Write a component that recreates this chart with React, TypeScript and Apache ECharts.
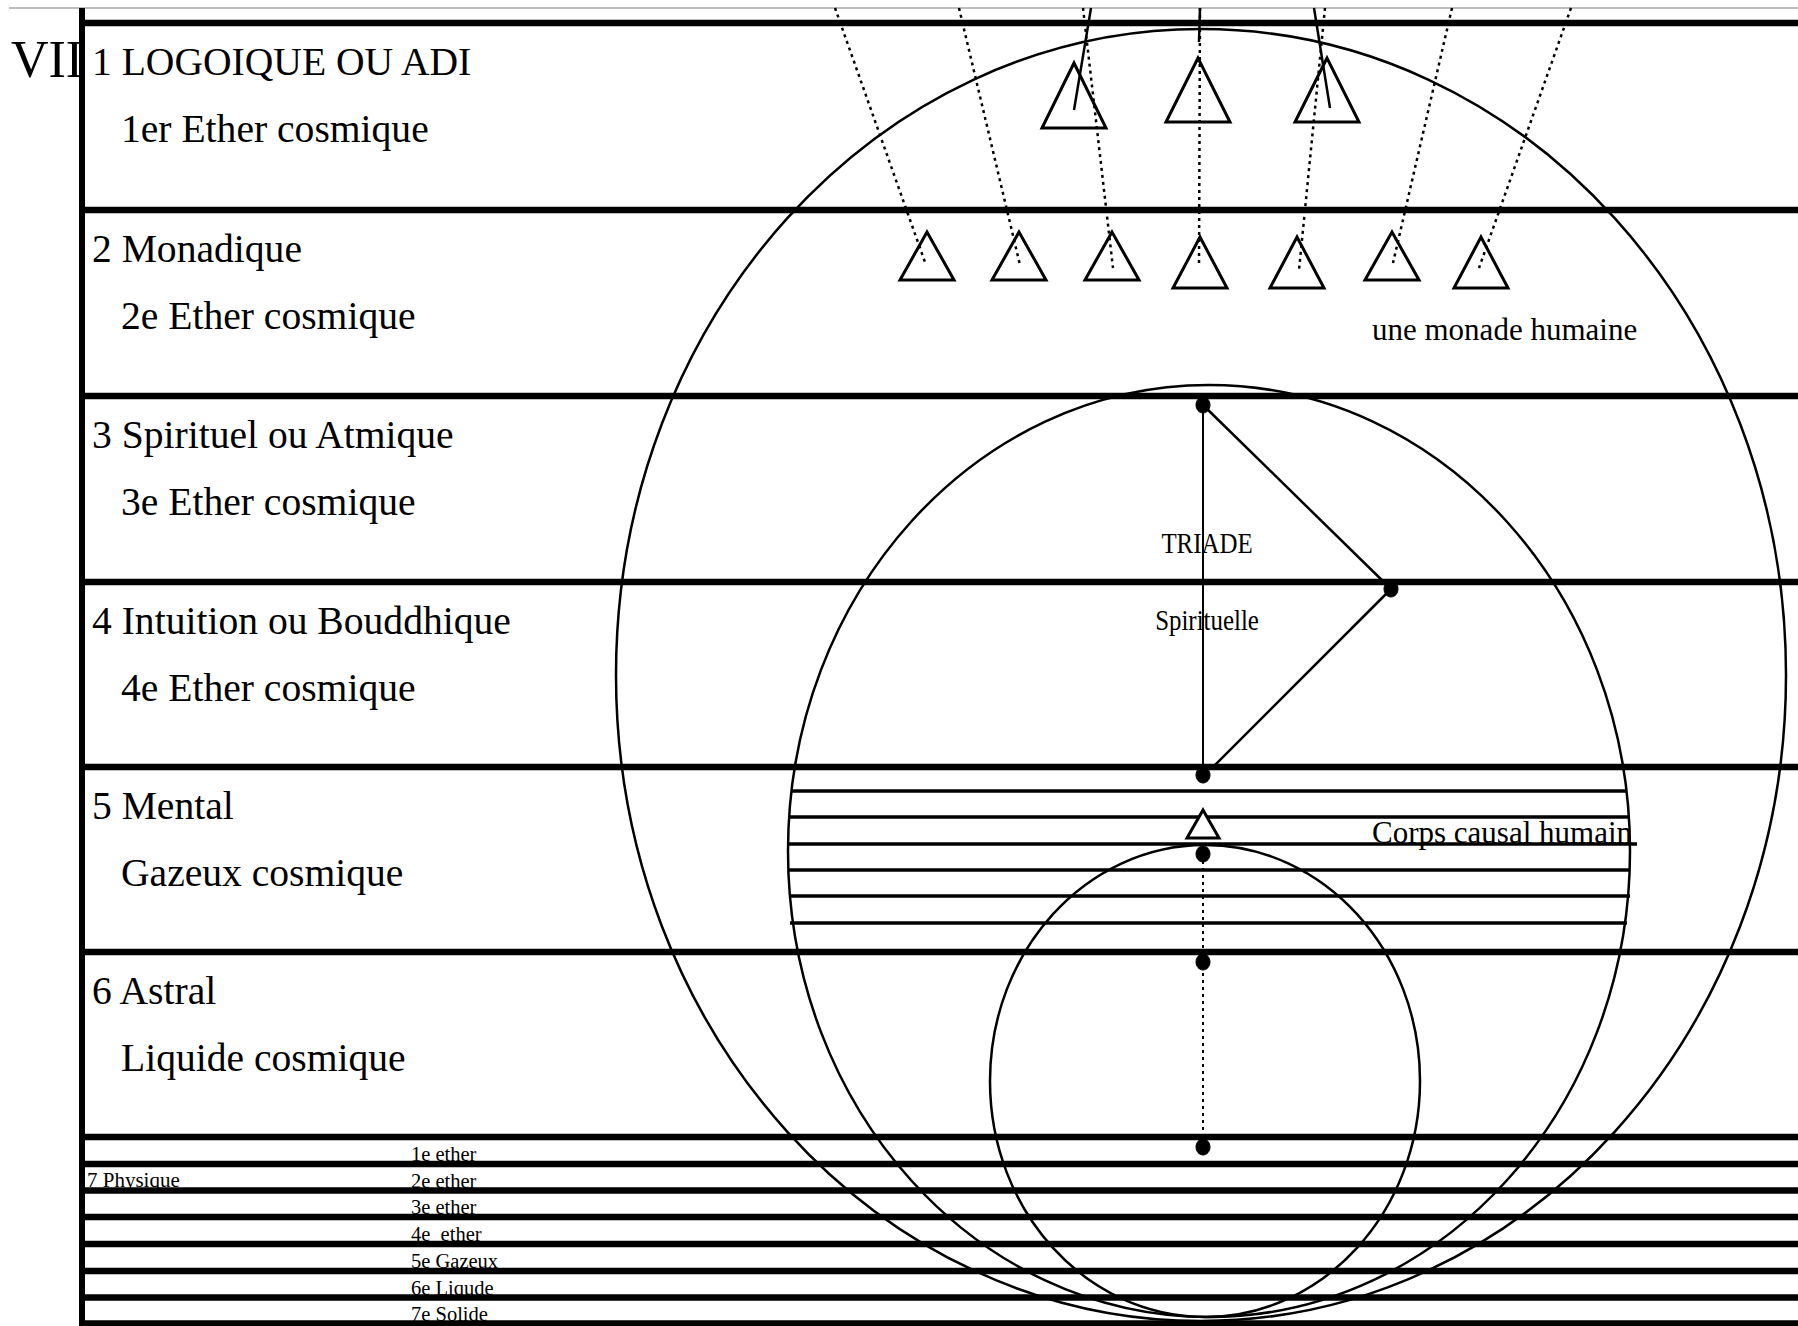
import React, { useEffect, useRef } from "react";
import * as echarts from "echarts";

const W = 1798;
const H = 1326;
const FONT = '"Liberation Serif", "Times New Roman", serif';

// ---- structure (diagram units = page pixels) ----
const frameX = 82;
const topRuleY = 8;
const planeLinesY = [23, 210, 396, 582, 767, 952, 1137];
const physiqueLinesY = [1164, 1190.5, 1217, 1244, 1271, 1297.5, 1323.5];

const romanLabel = "VII";
const planeTitles = [
  "1 LOGOIQUE OU ADI",
  "2 Monadique",
  "3 Spirituel ou Atmique",
  "4 Intuition ou Bouddhique",
  "5 Mental",
  "6 Astral",
];
const planeSubtitles = [
  "1er Ether cosmique",
  "2e Ether cosmique",
  "3e Ether cosmique",
  "4e Ether cosmique",
  "Gazeux cosmique",
  "Liquide cosmique",
];
const physiqueTitle = "7 Physique";
const physiqueSubplanes = [
  "1e ether",
  "2e ether",
  "3e ether",
  "4e  ether",
  "5e Gazeux",
  "6e Liqude",
  "7e Solide",
];

const mentalHatchY = [791, 817, 844, 870, 896, 923];
const mentalHatchLeft = [791, 789, 789, 789, 789, 790];
const mentalHatchRight = [1627, 1630, 1637, 1630, 1630, 1627];

const ellipseCx = [1201, 1209, 1205];
const ellipseCy = [675, 851, 1081];
const ellipseRx = [585, 421, 215];
const ellipseRy = [646, 466, 236];

const upperTriX = [1074, 1198, 1327];
const upperTriApexY = [63, 58, 58];
const upperTriBaseY = [128, 122, 122];
const upperTriHalf = [32, 32, 32];

const lowerTriX = [927, 1019, 1112, 1200, 1297, 1392, 1481];
const lowerTriApexY = [232, 232, 232, 237, 237, 232, 237];
const lowerTriBaseY = [280, 280, 280, 288, 288, 280, 288];
const lowerTriHalf = [27, 27, 27, 27, 27, 27, 27];

const rayTopX = [835, 959, 1083, 1200, 1325, 1452, 1571];
const rayEndX = [926, 1020, 1113, 1199, 1299, 1393, 1479];
const rayEndY = [265, 265, 268, 267, 270, 263, 268];

const spokeTopX = [1091, 1200, 1314];
const spokeEndX = [1074, 1199, 1330];
const spokeEndY = [110, 42, 108];

const triadX = [1203, 1391, 1203];
const triadY = [405, 589, 775];
const axisX = 1203;
const axisDotsY = [854, 962, 1147];
const causalTri = { x: 1203, apex: 810, base: 838, half: 16 };

const annotations = ["une monade humaine", "Corps causal humain"];
const annotationX = [1372, 1372];
const annotationY = [340, 843];
const triadLabels = ["TRIADE", "Spirituelle"];
const triadLabelY = [553, 630];

// ---- helpers ----
const base = { type: "custom", coordinateSystem: "cartesian2d", silent: true, clip: false };

function segSeries(rows: number[][], width: number, color = "#000", dash?: number[]) {
  return {
    ...base,
    data: rows,
    renderItem: (_p: any, api: any) => {
      const a = api.coord([api.value(0), api.value(1)]);
      const b = api.coord([api.value(2), api.value(3)]);
      return {
        type: "line",
        shape: { x1: a[0], y1: a[1], x2: b[0], y2: b[1] },
        style: { stroke: color, lineWidth: width, lineDash: dash, fill: null },
      };
    },
  };
}

function textSeries(
  xs: number[],
  ys: number[],
  texts: string[],
  fontSize: number,
  align = "left",
  scaleX = 1
) {
  return {
    ...base,
    data: xs.map((x, i) => [x, ys[i]]),
    renderItem: (p: any, api: any) => {
      const pt = api.coord([api.value(0), api.value(1)]);
      return {
        type: "text",
        x: pt[0],
        y: pt[1] - 0.34 * fontSize,
        scaleX,
        style: {
          text: texts[p.dataIndex],
          fontSize,
          fontFamily: FONT,
          fill: "#000",
          align,
          verticalAlign: "middle",
        },
      };
    },
  };
}

function ellipseSeries(rows: number[][], width: number, fill: string | null) {
  return {
    ...base,
    data: rows,
    renderItem: (_p: any, api: any) => {
      const c = api.coord([api.value(0), api.value(1)]);
      const s = api.size([api.value(2), api.value(3)]);
      return {
        type: "ellipse",
        shape: { cx: c[0], cy: c[1], rx: Math.abs(s[0]), ry: Math.abs(s[1]) },
        style: { fill: fill || "none", stroke: "#000", lineWidth: width },
      };
    },
  };
}

function triangleSeries(rows: number[][], width: number, fill: string | null) {
  return {
    ...base,
    data: rows,
    renderItem: (_p: any, api: any) => {
      const x = api.value(0);
      const apex = api.coord([x, api.value(1)]);
      const l = api.coord([x - api.value(3), api.value(2)]);
      const r = api.coord([x + api.value(3), api.value(2)]);
      return {
        type: "polygon",
        shape: { points: [apex, l, r] },
        style: { fill: fill || "none", stroke: "#000", lineWidth: width, lineJoin: "miter" },
      };
    },
  };
}

export default function App() {
  const ref = useRef<HTMLDivElement>(null);
  useEffect(() => {
    document.body.style.margin = "0";
    if (!ref.current) return;
    const chart = echarts.init(ref.current, undefined, { renderer: "svg" });

    const physiqueTextY = physiqueLinesY.map((y) => y - 3);
    const physiqueTextX = physiqueSubplanes.map(() => 411);

    const option = {
      animation: false,
      backgroundColor: "#fff",
      grid: { left: 0, right: 0, top: 0, bottom: 0, containLabel: false },
      xAxis: { type: "value", min: 0, max: W, show: false },
      yAxis: { type: "value", min: 0, max: H, inverse: true, show: false },
      series: [
        // texts under the rules
        textSeries([11], [77], [romanLabel], 52),
        textSeries(planeTitles.map(() => 92), planeLinesY.slice(0, 6).map((y) => y + 52), planeTitles, 39.6),
        textSeries(planeSubtitles.map(() => 121), planeLinesY.slice(0, 6).map((y) => y + 119), planeSubtitles, 39.6),
        textSeries([87], [1187], [physiqueTitle], 21),
        textSeries(physiqueTextX, physiqueTextY, physiqueSubplanes, 20.5),
        // top gray rule
        segSeries([[9, topRuleY, W, topRuleY]], 1.5, "#a8a8a8"),
        // frame
        segSeries([[frameX, topRuleY, frameX, H]], 6),
        segSeries(planeLinesY.map((y) => [frameX, y, W, y]), 6.5),
        segSeries(physiqueLinesY.map((y) => [frameX, y, W, y]), 6.5),
        // mental hatching
        segSeries(mentalHatchY.map((y, i) => [mentalHatchLeft[i], y, mentalHatchRight[i], y]), 3.5),
        // ellipses
        ellipseSeries(ellipseCx.map((cx, i) => [cx, ellipseCy[i], ellipseRx[i], ellipseRy[i]]), 2.5, null),
        // rays
        segSeries(rayTopX.map((x, i) => [x, topRuleY, rayEndX[i], rayEndY[i]]), 2.5, "#000", [3, 4]),
        segSeries(spokeTopX.map((x, i) => [x, topRuleY, spokeEndX[i], spokeEndY[i]]), 2.5),
        // triangles
        triangleSeries(upperTriX.map((x, i) => [x, upperTriApexY[i], upperTriBaseY[i], upperTriHalf[i]]), 3, null),
        triangleSeries(lowerTriX.map((x, i) => [x, lowerTriApexY[i], lowerTriBaseY[i], lowerTriHalf[i]]), 3, null),
        // triad
        segSeries([[triadX[0], triadY[0], triadX[2], triadY[2]]], 2),
        segSeries(
          [
            [triadX[0], triadY[0], triadX[1], triadY[1]],
            [triadX[1], triadY[1], triadX[2] + 10, triadY[2] - 8],
          ],
          2.5
        ),
        segSeries([[axisX, axisDotsY[0], axisX, axisDotsY[2]]], 2, "#000", [3, 4]),
        ellipseSeries(
          [...triadX.map((x, i) => [x, triadY[i], 7, 8]), ...axisDotsY.map((y) => [axisX, y, 7, 8])],
          1,
          "#000"
        ),
        triangleSeries([[causalTri.x, causalTri.apex, causalTri.base, causalTri.half]], 3, "#fff"),
        // annotations
        textSeries(annotationX, annotationY, annotations, 31),
        textSeries([1207, 1207], triadLabelY, triadLabels, 30, "center", 0.83),
      ],
    };
    chart.setOption(option as any);
    return () => chart.dispose();
  }, []);
  return <div ref={ref} style={{ width: W, height: H }} />;
}
